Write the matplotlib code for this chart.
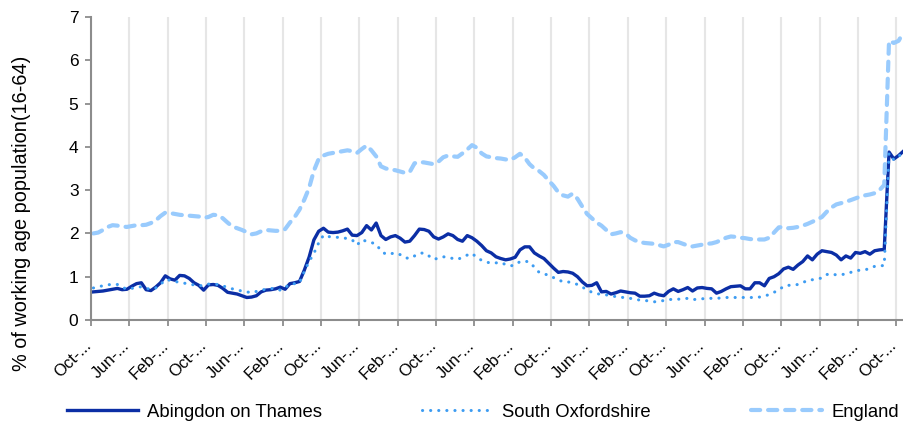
import matplotlib
matplotlib.use("Agg")
import matplotlib.pyplot as plt
import matplotlib.transforms as mtransforms
import numpy as np

plt.rcParams['font.family'] = ['Liberation Sans', 'DejaVu Sans']

# monthly claimant rate, % of working age population (16-64)
abingdon = [
    0.65, 0.66, 0.67, 0.69, 0.71, 0.73, 0.70, 0.71, 0.78, 0.84,
    0.86, 0.70, 0.68, 0.76, 0.86, 1.02, 0.95, 0.92, 1.03, 1.02,
    0.96, 0.86, 0.80, 0.69, 0.81, 0.82, 0.80, 0.73, 0.64, 0.62,
    0.60, 0.56, 0.52, 0.53, 0.56, 0.65, 0.69, 0.70, 0.72, 0.76,
    0.71, 0.84, 0.86, 0.89, 1.15, 1.45, 1.85, 2.05, 2.12, 2.03,
    2.02, 2.03, 2.06, 2.10, 1.96, 1.95, 2.02, 2.18, 2.08, 2.24,
    1.95, 1.86, 1.92, 1.95, 1.89, 1.80, 1.82, 1.95, 2.10, 2.09,
    2.05, 1.92, 1.87, 1.92, 1.99, 1.95, 1.86, 1.82, 1.95, 1.90,
    1.82, 1.72, 1.60, 1.55, 1.46, 1.42, 1.39, 1.41, 1.45, 1.62,
    1.69, 1.69, 1.55, 1.48, 1.42, 1.31, 1.20, 1.10, 1.12, 1.11,
    1.08, 1.00, 0.88, 0.79, 0.80, 0.86, 0.65, 0.66, 0.60, 0.63,
    0.67, 0.65, 0.63, 0.62, 0.55, 0.55, 0.56, 0.62, 0.58, 0.56,
    0.66, 0.72, 0.66, 0.70, 0.75, 0.67, 0.74, 0.75, 0.73, 0.72,
    0.62, 0.66, 0.72, 0.77, 0.78, 0.79, 0.72, 0.72, 0.86, 0.86,
    0.79, 0.96, 1.00, 1.07, 1.18, 1.22, 1.17, 1.27, 1.35, 1.48,
    1.39, 1.52, 1.60, 1.58, 1.56, 1.50, 1.39, 1.48, 1.43, 1.56,
    1.54, 1.58, 1.52, 1.60, 1.62, 1.63, 3.88, 3.72, 3.80, 3.90,
]
south_oxon = [
    0.74, 0.77, 0.79, 0.81, 0.83, 0.82, 0.76, 0.71, 0.73, 0.75,
    0.77, 0.73, 0.71, 0.74, 0.82, 0.93, 0.92, 0.89, 0.87, 0.85,
    0.83, 0.81, 0.79, 0.80, 0.83, 0.83, 0.82, 0.79, 0.75, 0.72,
    0.69, 0.67, 0.65, 0.63, 0.66, 0.69, 0.71, 0.73, 0.72, 0.69,
    0.75, 0.83, 0.84, 0.86, 1.12, 1.35, 1.54, 1.78, 1.96, 1.93,
    1.91, 1.91, 1.90, 1.88, 1.85, 1.73, 1.85, 1.82, 1.79, 1.75,
    1.60, 1.52, 1.53, 1.55, 1.51, 1.44, 1.42, 1.48, 1.54, 1.55,
    1.48, 1.40, 1.43, 1.46, 1.45, 1.42, 1.40, 1.45, 1.50, 1.54,
    1.44, 1.38, 1.34, 1.31, 1.32, 1.33, 1.28, 1.25, 1.27, 1.35,
    1.36, 1.34, 1.22, 1.10, 1.06, 1.04, 0.98, 0.93, 0.88, 0.88,
    0.86, 0.82, 0.76, 0.70, 0.64, 0.61, 0.59, 0.58, 0.56, 0.54,
    0.53, 0.51, 0.50, 0.48, 0.46, 0.45, 0.44, 0.42, 0.43, 0.45,
    0.47, 0.48, 0.48, 0.49, 0.50, 0.47, 0.48, 0.49, 0.50, 0.50,
    0.50, 0.51, 0.52, 0.52, 0.52, 0.52, 0.52, 0.52, 0.52, 0.53,
    0.55, 0.59, 0.64, 0.69, 0.78, 0.80, 0.81, 0.82, 0.86, 0.92,
    0.93, 0.95, 0.97, 1.05, 1.07, 1.04, 1.05, 1.06, 1.10, 1.14,
    1.15, 1.16, 1.19, 1.24, 1.25, 1.26, 3.85, 3.70, 3.78, 3.88,
]
england = [
    2.00, 2.02, 2.08, 2.15, 2.19, 2.18, 2.16, 2.15, 2.17, 2.19,
    2.19, 2.20, 2.24, 2.30, 2.40, 2.48, 2.47, 2.45, 2.43, 2.42,
    2.41, 2.40, 2.39, 2.36, 2.38, 2.43, 2.42, 2.35, 2.25, 2.16,
    2.12, 2.08, 2.03, 1.98, 2.00, 2.05, 2.08, 2.07, 2.06, 2.06,
    2.10, 2.25, 2.38, 2.55, 2.78, 3.05, 3.45, 3.72, 3.80, 3.84,
    3.86, 3.88, 3.90, 3.92, 3.90, 3.86, 3.95, 4.03, 3.92, 3.78,
    3.55, 3.50, 3.48, 3.46, 3.43, 3.40, 3.42, 3.62, 3.65, 3.64,
    3.62, 3.60, 3.66, 3.76, 3.80, 3.78, 3.77, 3.85, 3.94, 4.04,
    3.98, 3.85, 3.78, 3.76, 3.74, 3.73, 3.71, 3.70, 3.76, 3.84,
    3.75, 3.60, 3.50, 3.44, 3.35, 3.22, 3.10, 2.95, 2.88, 2.85,
    2.92, 2.80, 2.62, 2.45, 2.35, 2.25, 2.18, 2.08, 1.98, 2.00,
    2.03, 2.00, 1.90, 1.84, 1.80, 1.78, 1.77, 1.76, 1.73, 1.70,
    1.74, 1.80, 1.80, 1.76, 1.72, 1.70, 1.72, 1.74, 1.76, 1.77,
    1.80, 1.85, 1.90, 1.93, 1.92, 1.90, 1.89, 1.87, 1.86, 1.86,
    1.86, 1.90, 2.02, 2.14, 2.15, 2.12, 2.13, 2.15, 2.18, 2.22,
    2.27, 2.32, 2.38, 2.50, 2.60, 2.67, 2.70, 2.73, 2.77, 2.81,
    2.85, 2.88, 2.90, 2.93, 3.00, 3.12, 6.45, 6.40, 6.45, 6.65,
]
# labels every 8 months
tick_months = ['Oct', 'Jun', 'Feb']
tick_labels = [tick_months[k % 3] + '-...' for k in range(22)]

n = len(england)
x = np.arange(n) + 0.5
tick_pos = np.arange(0, n, 8)

fig = plt.figure(figsize=(9.04, 4.24), dpi=100)
ax = fig.add_axes([91 / 904, 1 - 320 / 424, 1 - 91 / 904 + 0.002, 303 / 424])

ax.plot(x, abingdon, color='#0b2ea5', lw=2.4, label='Abingdon on Thames',
        solid_joinstyle='round')
ax.plot(x, south_oxon, color='#3d9cf2', lw=2.2, linestyle=(0, (0.05, 2.6)),
        dash_capstyle='round', label='South Oxfordshire')
ax.plot(x, england, color='#99cbfd', lw=3.0, linestyle=(0, (2.2, 1.9)),
        dash_capstyle='round', label='England')

ax.set_xlim(0, n)
ax.set_ylim(0, 7)
ax.set_yticks(range(8))
ax.set_xticks(tick_pos)
ax.set_xticklabels([])
ax.grid(axis='x', color='#e6e6e6', lw=1.5)
ax.set_axisbelow(True)

# rotated month labels, ending just left of each tick
offset = mtransforms.ScaledTranslation(-2 / 100, -23 / 100, fig.dpi_scale_trans)
for p, lab in zip(tick_pos, tick_labels):
    ax.text(p, 0, lab, transform=ax.get_xaxis_transform() + offset,
            rotation=45, ha='right', va='center', rotation_mode='anchor',
            fontsize=12)

for s in ['top', 'right']:
    ax.spines[s].set_visible(False)
for s in ['left', 'bottom']:
    ax.spines[s].set_color('#8c8c8c')
    ax.spines[s].set_linewidth(1.5)
ax.tick_params(axis='y', colors='#8c8c8c', labelcolor='black', labelsize=12.5,
               length=4, width=1.3, pad=5)
ax.tick_params(axis='x', colors='#8c8c8c', length=4, width=1.3)

ax.set_ylabel('% of working age population(16-64)', fontsize=14.3)
ax.yaxis.set_label_coords(-0.074, 0.353)

fig.legend(loc='center', bbox_to_anchor=(0.534, 0.028), ncol=3, frameon=False,
           fontsize=13.3, handlelength=3.85, handletextpad=0.5, columnspacing=5.4)

fig.savefig('out.png', dpi=100)
